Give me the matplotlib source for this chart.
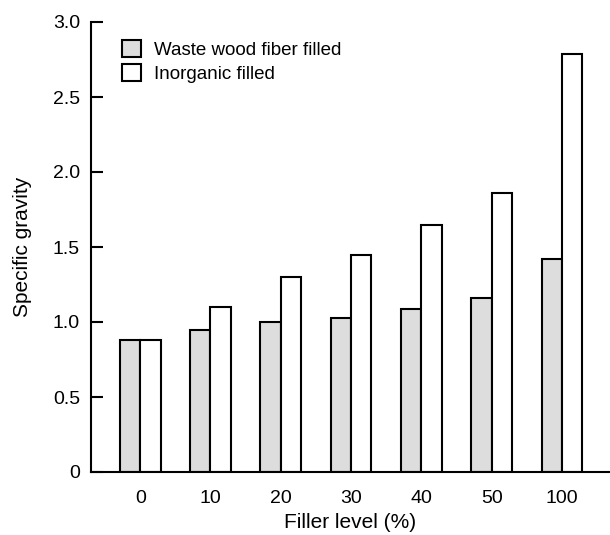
import matplotlib
matplotlib.use("Agg")
import matplotlib.pyplot as plt
import numpy as np

categories = ["0", "10", "20", "30", "40", "50", "100"]
wood_fiber = [0.88, 0.95, 1.00, 1.03, 1.09, 1.16, 1.42]
inorganic = [0.88, 1.10, 1.30, 1.45, 1.65, 1.86, 2.79]
yticks = [0, 0.5, 1.0, 1.5, 2.0, 2.5, 3.0]
yticklabels = ["0", "0.5", "1.0", "1.5", "2.0", "2.5", "3.0"]

plt.rcParams['font.family'] = ['Liberation Sans', 'DejaVu Sans']

fig = plt.figure(figsize=(6.10, 5.35), dpi=100)
ax = fig.add_axes([91/610, (535-472)/535, (609-91)/610, 450/535])

x = np.arange(len(categories))
w = 0.29
ax.bar(x, wood_fiber, width=-w, align='edge', color='#dddddd',
       edgecolor='black', linewidth=1.5, label='Waste wood fiber filled')
ax.bar(x, inorganic, width=w, align='edge', color='white',
       edgecolor='black', linewidth=1.5, label='Inorganic filled')

ax.set_xlim(-0.70, 6.67)
ax.set_ylim(0, 3.0)
ax.set_xticks(x)
ax.set_xticklabels(categories)
ax.set_yticks(yticks)
ax.set_yticklabels(yticklabels)

for s in ['top', 'right']:
    ax.spines[s].set_visible(False)
for s in ['left', 'bottom']:
    ax.spines[s].set_linewidth(1.5)

ax.tick_params(axis='y', direction='in', length=8.5, width=1.5, pad=8, labelsize=14)
ax.tick_params(axis='x', length=0, pad=13, labelsize=14)

ax.set_xlabel('Filler level (%)', fontsize=15, labelpad=4)
ax.set_ylabel('Specific gravity', fontsize=15, labelpad=15)

leg = ax.legend(loc='upper left', bbox_to_anchor=(122/610, 1-40/535),
                bbox_transform=fig.transFigure, frameon=False,
                fontsize=13.5, handlelength=1.0, handleheight=1.0,
                handletextpad=0.7, labelspacing=0.3, borderpad=0,
                borderaxespad=0)

fig.savefig('out.png', dpi=100)
